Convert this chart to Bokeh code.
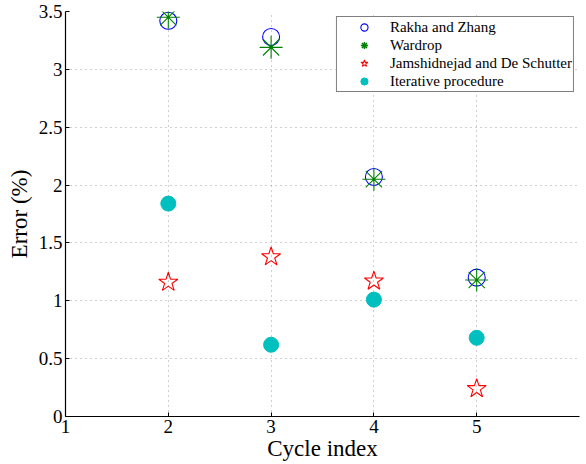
from bokeh.plotting import figure
from bokeh.models import Range1d, FixedTicker, Legend, LegendItem, ColumnDataSource
from bokeh.embed import file_html
from bokeh.resources import INLINE

cycles = [2, 3, 4, 5]
rakha = [3.42, 3.28, 2.07, 1.20]
wardrop = [3.45, 3.19, 2.05, 1.18]
jamshid = [1.16, 1.38, 1.17, 0.24]
iterative = [1.84, 0.62, 1.01, 0.68]
x_ticks = [1, 2, 3, 4, 5]
y_ticks = [0, 0.5, 1, 1.5, 2, 2.5, 3, 3.5]
labels = ["Rakha and Zhang", "Wardrop", "Jamshidnejad and De Schutter", "Iterative procedure"]

FONT = "Liberation Serif"
BLUE = "#0000ff"
GREEN = "#008000"
RED = "#ff0000"
CYAN = "#00bfbf"

p = figure(width=586, height=464, output_backend="svg", toolbar_location=None,
           x_range=Range1d(1, 6), y_range=Range1d(0, 3.5),
           min_border_left=65, min_border_right=7, min_border_top=11, min_border_bottom=48)
p.outline_line_color = None
p.background_fill_color = "white"

for ax in (p.xaxis[0], p.yaxis[0]):
    ax.major_label_text_font = FONT
    ax.major_label_text_font_size = "19px"
    ax.major_label_text_color = "black"
    ax.axis_label_text_font = FONT
    ax.axis_label_text_font_size = "23px"
    ax.axis_label_text_font_style = "normal"
    ax.axis_label_text_color = "black"
    ax.major_tick_in = 4
    ax.major_tick_out = 0
    ax.minor_tick_in = 0
    ax.minor_tick_out = 0
    ax.axis_line_color = "black"
    ax.axis_line_width = 1.2
    ax.major_tick_line_color = "black"
    ax.major_label_standoff = 3

p.xaxis.ticker = FixedTicker(ticks=x_ticks)
p.yaxis.ticker = FixedTicker(ticks=y_ticks)
p.xaxis.axis_label = "Cycle index"
p.yaxis.axis_label = "Error (%)"
p.xaxis.axis_label_standoff = 0
p.yaxis.axis_label_standoff = 4

for g in (p.xgrid[0], p.ygrid[0]):
    g.grid_line_color = "#808080"
    g.grid_line_dash = "1 4"
    g.grid_line_width = 1
    g.grid_line_alpha = 0.75

src = ColumnDataSource(dict(x=cycles, rakha=rakha, wardrop=wardrop, jamshid=jamshid, iterative=iterative))

p.scatter("x", "rakha", source=src, marker="circle", size=17, fill_color=None, line_color=BLUE, line_width=1.1)
p.scatter("x", "wardrop", source=src, marker="asterisk", size=23, line_color=GREEN, line_width=1.1)
p.scatter("x", "jamshid", source=src, marker="star", size=20, fill_color=None, line_color=RED, line_width=1.1)
p.scatter("x", "iterative", source=src, marker="circle", size=15, fill_color=CYAN, line_color=CYAN)

# legend-only renderers (hidden on the plot, smaller legend glyphs)
l1 = p.scatter("x", "rakha", source=src, marker="circle", size=7, fill_color=None, line_color=BLUE, line_width=1.1, visible=False)
l2 = p.scatter("x", "wardrop", source=src, marker="asterisk", size=7, line_color=GREEN, line_width=1.5, visible=False)
l3 = p.scatter("x", "jamshid", source=src, marker="star", size=9, fill_color=None, line_color=RED, line_width=1.1, visible=False)
l4 = p.scatter("x", "iterative", source=src, marker="circle", size=7, fill_color=CYAN, line_color=CYAN, visible=False)

legend = Legend(items=[LegendItem(label=labels[i], renderers=[r], index=0) for i, r in enumerate([l1, l2, l3, l4])],
                location="top_right", margin=5, padding=1, spacing=0,
                glyph_width=52, glyph_height=18, label_height=18, label_standoff=0,
                label_text_font=FONT, label_text_font_size="15px", label_text_color="black",
                border_line_color="black", border_line_width=1, background_fill_color="white",
                background_fill_alpha=1.0)
p.add_layout(legend, "center")

open("out.html", "w").write(file_html(p, INLINE))
